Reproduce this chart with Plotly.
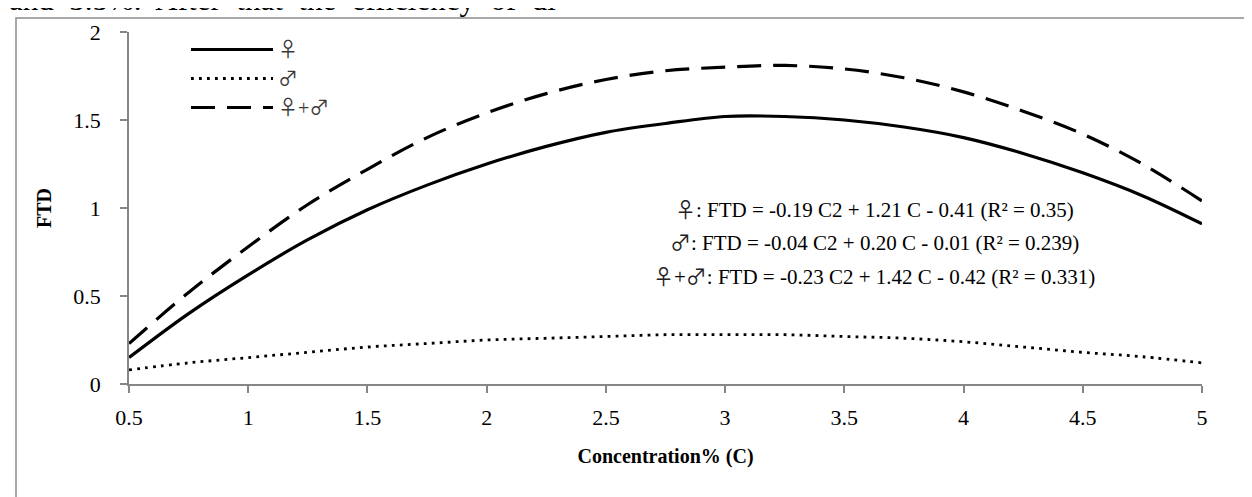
import plotly.graph_objects as go

# ---- data ----
conc = [0.5, 0.75, 1.0, 1.25, 1.5, 1.75, 2.0, 2.25, 2.5, 2.75, 3.0, 3.25, 3.5, 3.75, 4.0, 4.25, 4.5, 4.75, 5.0]
female = [0.15, 0.40, 0.62, 0.82, 0.99, 1.13, 1.25, 1.35, 1.43, 1.48, 1.52, 1.52, 1.50, 1.46, 1.40, 1.31, 1.20, 1.07, 0.91]
male = [0.08, 0.12, 0.15, 0.18, 0.21, 0.23, 0.25, 0.26, 0.27, 0.28, 0.28, 0.28, 0.27, 0.26, 0.24, 0.21, 0.18, 0.155, 0.12]
both = [0.23, 0.52, 0.78, 1.02, 1.22, 1.40, 1.54, 1.65, 1.73, 1.78, 1.80, 1.81, 1.79, 1.74, 1.66, 1.55, 1.42, 1.25, 1.04]

FEM, MAL = "\u2640", "\u2642"
series_names = [FEM, MAL, FEM + "+" + MAL]
equation_bodies = [
    ": FTD = -0.19 C2 + 1.21 C - 0.41 (R\u00b2 = 0.35)",
    ": FTD = -0.04 C2 + 0.20 C - 0.01 (R\u00b2 = 0.239)",
    ": FTD = -0.23 C2 + 1.42 C - 0.42 (R\u00b2 = 0.331)",
]
x_ticks = [0.5, 1, 1.5, 2, 2.5, 3, 3.5, 4, 4.5, 5]
y_ticks = [0, 0.5, 1, 1.5, 2]
x_title = "Concentration% (C)"
y_title = "FTD"
top_text = "and\u00a0 3.5%.\u00a0 After\u00a0 that\u00a0 the\u00a0 efficiency\u00a0 of\u00a0 di"

# ---- layout geometry ----
W, H = 1252, 497
ML, MR, MT, MB = 121, 58, 24, 121
PW, PH = W - ML - MR, H - MT - MB


def px_x(p):
    return (p - ML) / PW


def px_y(p):
    return (H - MB - p) / PH


FONT = "Liberation Serif, Times New Roman, serif"
SYM_FONT = "Noto Sans CJK JP"
AXIS_GRAY = "#868686"


def sym(s, color="#3a3a3a"):
    out = ""
    for ch in s:
        if ch in (FEM, MAL):
            out += f"<span style='font-family:{SYM_FONT};color:{color}'>{ch}</span>"
        else:
            out += ch
    return out


fig = go.Figure()
styles = [
    dict(color="black", width=3.2, dash="solid"),
    dict(color="black", width=2.8, dash="2.8px,5.2px"),
    dict(color="black", width=3.2, dash="24px,12px"),
]
for name, ys, st in zip(series_names, [female, male, both], styles):
    fig.add_trace(go.Scatter(x=conc, y=ys, mode="lines", name=sym(name),
                             line=dict(shape="spline", smoothing=1.0, **st)))

for i, (name, body) in enumerate(zip(series_names, equation_bodies)):
    fig.add_annotation(text=sym(name, "#222222") + body, xref="paper", yref="paper",
                       x=px_x(866), y=px_y([200, 233, 267][i]),
                       xanchor="center", yanchor="middle", showarrow=False,
                       font=dict(family=FONT, size=21, color="black"))

# partial line of document text cut at the top
fig.add_annotation(text=top_text, xref="paper", yref="paper",
                   x=px_x(0), y=px_y(10), xanchor="left", yanchor="bottom",
                   showarrow=False, borderpad=0,
                   font=dict(family=FONT, size=31, color="black"))

# outer chart frame (cut at the right and bottom)
fig.add_shape(type="rect", xref="paper", yref="paper",
              x0=px_x(8), x1=px_x(1270), y0=px_y(520), y1=px_y(10),
              line=dict(color="#8c8c8c", width=1.5), layer="below")

fig.update_layout(
    width=W, height=H, autosize=False,
    margin=dict(l=ML, r=MR, t=MT, b=MB, pad=0),
    paper_bgcolor="white", plot_bgcolor="white",
    font=dict(family=FONT, size=22, color="black"),
    showlegend=True,
    legend=dict(x=px_x(178), y=px_y(22), xanchor="left", yanchor="top",
                bgcolor="rgba(0,0,0,0)", itemwidth=82,
                font=dict(family=FONT, size=20, color="#3a3a3a"),
                tracegroupgap=0),
    xaxis=dict(range=[0.5, 5], tickmode="array", tickvals=x_ticks,
               ticktext=[f"{v:g}" for v in x_ticks],
               showline=True, linecolor=AXIS_GRAY, linewidth=1.5,
               ticks="outside", ticklen=7, tickcolor=AXIS_GRAY, tickwidth=1.5,
               showgrid=False, zeroline=False, ticklabelstandoff=6,
               tickfont=dict(family=FONT, size=22, color="black"),
               title=dict(text=x_title, standoff=20,
                          font=dict(family=FONT, size=20, color="black", weight="bold"))),
    yaxis=dict(range=[0, 2], tickmode="array", tickvals=y_ticks,
               ticktext=[f"{v:g}" for v in y_ticks],
               showline=True, linecolor=AXIS_GRAY, linewidth=1.5,
               ticks="outside", ticklen=7, tickcolor=AXIS_GRAY, tickwidth=1.5,
               showgrid=False, zeroline=False, ticklabelstandoff=15,
               tickfont=dict(family=FONT, size=22, color="black"),
               title=dict(text=y_title, standoff=16,
                          font=dict(family=FONT, size=20, color="black", weight="bold"))),
)

fig.write_html("out.html")
